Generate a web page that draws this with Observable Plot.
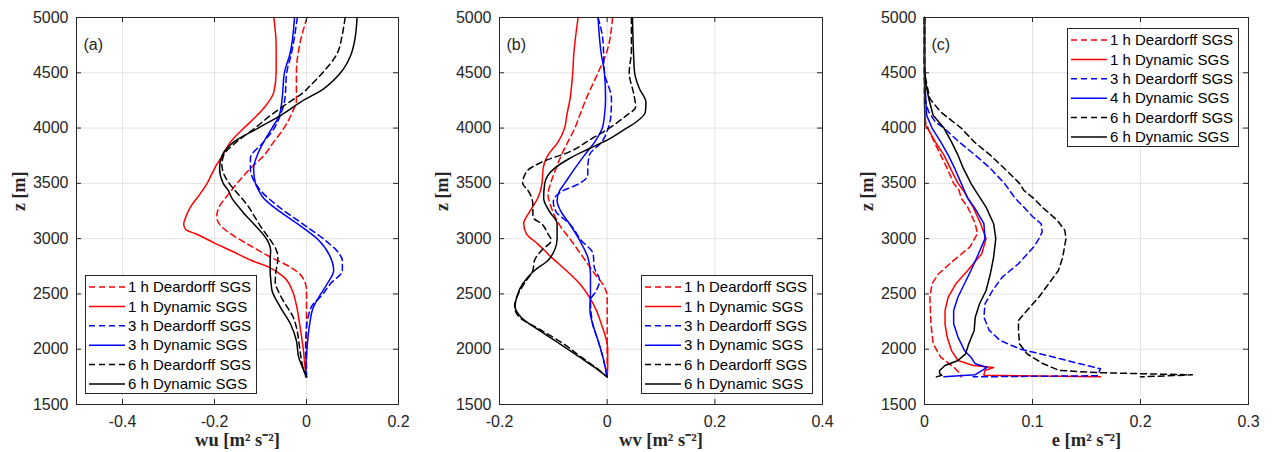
<!DOCTYPE html>
<html><head><meta charset="utf-8">
<script src="https://cdn.jsdelivr.net/npm/d3@7"></script>
<script src="https://cdn.jsdelivr.net/npm/@observablehq/plot@0.6"></script>
<style>
body{margin:0;background:#fff;}
#wrap{position:relative;width:1274px;height:452px;overflow:hidden;background:#fff;}
.panel{position:absolute;top:0;}
.legend{position:absolute;}
</style></head><body><div id="wrap"></div><script>
// ---------- data: [z (m), value] pairs ----------
const zTicks = [1500, 2000, 2500, 3000, 3500, 4000, 4500, 5000];
const xTicksA = [-0.4, -0.2, 0, 0.2];
const xTicksB = [-0.2, 0, 0.2, 0.4];
const xTicksC = [0, 0.1, 0.2, 0.3];
const labelsAB = ["1 h Deardorff SGS", "1 h Dynamic SGS", "3 h Deardorff SGS", "3 h Dynamic SGS", "6 h Deardorff SGS", "6 h Dynamic SGS"];
const labelsC = ["1 h Deardorff SGS", "1 h Dynamic SGS", "3 h Deardorff SGS", "4 h Dynamic SGS", "6 h Deardorff SGS", "6 h Dynamic SGS"];

// (a) wu
const wuDear1 = [[5000,0.001],[4750,-0.015],[4500,-0.022],[4250,-0.022],[4150,-0.03],[4000,-0.049],[3875,-0.071],[3750,-0.093],[3635,-0.122],[3500,-0.151],[3400,-0.17],[3285,-0.19],[3200,-0.195],[3135,-0.19],[3044,-0.165],[2953,-0.129],[2833,-0.078],[2742,-0.035],[2652,-0.009],[2531,0],[2000,0],[1750,0]];
const wuDyn1 = [[5000,-0.071],[4750,-0.066],[4500,-0.066],[4325,-0.071],[4200,-0.089],[4100,-0.111],[4000,-0.136],[3875,-0.165],[3750,-0.183],[3650,-0.198],[3500,-0.216],[3400,-0.232],[3300,-0.25],[3200,-0.262],[3130,-0.267],[3080,-0.262],[3044,-0.241],[2960,-0.2],[2893,-0.165],[2800,-0.118],[2742,-0.082],[2652,-0.049],[2531,-0.031],[2400,-0.022],[2230,-0.015],[2000,-0.007],[1800,-0.002],[1750,0]];
const wuDear3 = [[5000,-0.02],[4670,-0.033],[4500,-0.043],[4265,-0.047],[4115,-0.057],[4000,-0.07],[3875,-0.093],[3725,-0.122],[3635,-0.122],[3500,-0.111],[3436,-0.1],[3300,-0.064],[3135,-0.009],[2984,0.041],[2870,0.07],[2803,0.078],[2712,0.078],[2592,0.052],[2472,0.03],[2411,0.015],[2300,0.004],[2200,0],[2000,-0.002],[1750,0]];
const wuDyn3 = [[5000,-0.026],[4670,-0.036],[4500,-0.048],[4265,-0.053],[4115,-0.059],[4000,-0.075],[3875,-0.093],[3755,-0.107],[3635,-0.115],[3500,-0.111],[3436,-0.104],[3365,-0.093],[3285,-0.071],[3135,-0.02],[2984,0.027],[2833,0.052],[2712,0.059],[2592,0.045],[2472,0.027],[2381,0.015],[2230,0.007],[2000,0.001],[1750,-0.002]];
const wuDear6 = [[5000,0.084],[4850,0.078],[4670,0.066],[4500,0.035],[4400,0.012],[4325,-0.006],[4205,-0.048],[4115,-0.078],[4000,-0.112],[3875,-0.152],[3755,-0.18],[3665,-0.184],[3600,-0.181],[3500,-0.168],[3400,-0.148],[3300,-0.128],[3200,-0.113],[3100,-0.098],[2984,-0.078],[2900,-0.066],[2833,-0.062],[2682,-0.067],[2600,-0.068],[2531,-0.062],[2400,-0.045],[2300,-0.03],[2200,-0.022],[2079,-0.017],[1928,-0.012],[1800,-0.005],[1750,0]];
const wuDyn6 = [[5000,0.11],[4776,0.104],[4656,0.096],[4500,0.074],[4355,0.037],[4235,-0.013],[4115,-0.056],[4000,-0.105],[3875,-0.158],[3755,-0.183],[3635,-0.189],[3500,-0.181],[3436,-0.17],[3365,-0.162],[3285,-0.147],[3200,-0.13],[3135,-0.115],[2984,-0.085],[2893,-0.078],[2800,-0.079],[2712,-0.079],[2600,-0.077],[2531,-0.075],[2381,-0.057],[2230,-0.035],[2079,-0.022],[1928,-0.017],[1838,-0.009],[1750,0]];

// (b) wv
const wvDear1 = [[5000,0.01],[4670,-0.002],[4500,-0.017],[4265,-0.039],[4115,-0.051],[4000,-0.06],[3875,-0.073],[3755,-0.085],[3635,-0.095],[3500,-0.105],[3400,-0.11],[3285,-0.104],[3135,-0.09],[2984,-0.067],[2833,-0.045],[2682,-0.023],[2562,-0.005],[2472,0],[2000,0],[1750,0]];
const wvDyn1 = [[5000,-0.054],[4670,-0.062],[4500,-0.064],[4265,-0.069],[4115,-0.075],[4000,-0.079],[3875,-0.091],[3755,-0.11],[3635,-0.119],[3500,-0.121],[3365,-0.129],[3245,-0.144],[3135,-0.155],[3044,-0.15],[2953,-0.129],[2833,-0.104],[2712,-0.076],[2592,-0.051],[2472,-0.033],[2351,-0.02],[2230,-0.011],[2110,-0.003],[2000,0.001],[1850,0.001],[1750,0]];
const wvDear3 = [[5000,-0.017],[4800,-0.008],[4500,-0.005],[4265,0.008],[4115,0.007],[4000,0.002],[3875,-0.01],[3755,-0.033],[3635,-0.036],[3575,-0.036],[3500,-0.051],[3425,-0.085],[3335,-0.1],[3245,-0.095],[3135,-0.07],[2984,-0.048],[2863,-0.026],[2742,-0.024],[2622,-0.014],[2531,-0.02],[2441,-0.031],[2230,-0.027],[2079,-0.017],[1928,-0.008],[1750,0]];
const wvDyn3 = [[5000,-0.017],[4670,-0.011],[4500,-0.005],[4265,-0.003],[4115,-0.005],[4000,-0.009],[3875,-0.023],[3755,-0.042],[3635,-0.06],[3500,-0.079],[3436,-0.088],[3345,-0.093],[3255,-0.087],[3135,-0.07],[2984,-0.051],[2833,-0.036],[2682,-0.031],[2531,-0.031],[2351,-0.032],[2230,-0.027],[2079,-0.017],[1928,-0.008],[1750,0]];
const wvDear6 = [[5000,0.045],[4700,0.045],[4500,0.041],[4295,0.05],[4190,0.053],[4115,0.036],[4000,0.004],[3900,-0.03],[3785,-0.07],[3695,-0.12],[3605,-0.15],[3500,-0.157],[3436,-0.147],[3305,-0.138],[3195,-0.138],[3135,-0.122],[3044,-0.11],[2984,-0.104],[2893,-0.122],[2803,-0.135],[2712,-0.138],[2622,-0.15],[2502,-0.165],[2381,-0.172],[2290,-0.163],[2170,-0.122],[2049,-0.081],[1928,-0.048],[1838,-0.022],[1750,0]];
const wvDyn6 = [[5000,0.047],[4670,0.049],[4500,0.051],[4355,0.06],[4235,0.072],[4145,0.071],[4055,0.054],[4000,0.036],[3905,0.005],[3815,-0.033],[3725,-0.07],[3635,-0.098],[3500,-0.116],[3365,-0.118],[3245,-0.107],[3135,-0.093],[3000,-0.093],[2893,-0.098],[2803,-0.11],[2712,-0.135],[2592,-0.157],[2472,-0.168],[2381,-0.171],[2290,-0.16],[2170,-0.126],[2049,-0.088],[1928,-0.051],[1838,-0.024],[1750,0]];

// (c) e
const eDear1 = [[5000,0],[4200,0],[4050,0.001],[3980,0.004],[3875,0.009],[3755,0.015],[3635,0.021],[3500,0.027],[3436,0.032],[3365,0.034],[3285,0.04],[3135,0.047],[3044,0.049],[2924,0.042],[2803,0.027],[2682,0.013],[2592,0.007],[2472,0.005],[2230,0.006],[2049,0.008],[1928,0.015],[1838,0.027],[1780,0.033],[1750,0.034]];
const eDyn1 = [[5000,0],[4200,0],[4025,0.001],[3980,0.004],[3875,0.01],[3755,0.018],[3635,0.024],[3500,0.031],[3436,0.036],[3285,0.045],[3135,0.052],[3000,0.057],[2863,0.053],[2712,0.04],[2592,0.029],[2472,0.022],[2351,0.019],[2230,0.019],[2110,0.021],[1988,0.025],[1898,0.031],[1853,0.045],[1835,0.064],[1808,0.056],[1765,0.055],[1750,0.163]];
const eDear3 = [[5000,0],[4300,0],[4200,0.002],[4145,0.004],[4055,0.01],[4000,0.018],[3875,0.032],[3755,0.047],[3635,0.061],[3500,0.074],[3365,0.084],[3275,0.093],[3200,0.1],[3135,0.108],[3060,0.109],[3000,0.106],[2924,0.101],[2773,0.087],[2652,0.072],[2531,0.063],[2411,0.056],[2290,0.055],[2170,0.06],[2079,0.07],[2000,0.089],[1928,0.12],[1868,0.144],[1823,0.163],[1760,0.16],[1750,0.045]];
const eDyn3 = [[5000,0],[4450,0],[4300,0.001],[4115,0.002],[4000,0.007],[3875,0.015],[3755,0.022],[3635,0.028],[3500,0.034],[3365,0.04],[3285,0.046],[3135,0.055],[3000,0.056],[2863,0.05],[2712,0.043],[2592,0.037],[2472,0.031],[2351,0.027],[2230,0.027],[2110,0.031],[1988,0.037],[1928,0.043],[1868,0.047],[1835,0.058],[1770,0.047],[1750,0.018]];
const eDear6 = [[5000,0],[4500,0],[4400,0.002],[4265,0.005],[4145,0.015],[4000,0.034],[3875,0.046],[3755,0.061],[3635,0.074],[3500,0.088],[3436,0.092],[3365,0.101],[3285,0.109],[3165,0.123],[3075,0.13],[3000,0.131],[2833,0.128],[2712,0.124],[2592,0.115],[2472,0.106],[2351,0.095],[2260,0.087],[2170,0.087],[2049,0.088],[1958,0.095],[1868,0.11],[1808,0.125],[1788,0.16],[1768,0.248],[1750,0.2]];
const eDyn6 = [[5000,0],[4600,0],[4415,0.001],[4265,0.004],[4115,0.008],[4000,0.018],[3875,0.025],[3755,0.031],[3635,0.036],[3500,0.043],[3436,0.047],[3285,0.057],[3135,0.064],[3000,0.066],[2833,0.064],[2682,0.061],[2531,0.057],[2411,0.051],[2290,0.047],[2170,0.046],[2049,0.041],[1958,0.038],[1898,0.031],[1853,0.019],[1808,0.014],[1780,0.014],[1765,0.016],[1750,0.011]];

// ---------- styles ----------
const colors = ["#ff0000", "#ff0000", "#0000ff", "#0000ff", "#000000", "#000000"];
const dashes = ["6,4", null, "6,4", null, "6,4", null];
const axisColor = "#262626";
const gridColor = "#e3e3e3";
const sans = "Liberation Sans, Arial, Helvetica, sans-serif";
const serif = "Liberation Serif, Times New Roman, serif";

const panels = [
  {left: 0, width: 418, innerW: 322, domain: [-0.5, 0.2], ticks: xTicksA, label: "wu [m² s⁻²]", tag: "(a)",
   series: [wuDear1, wuDyn1, wuDear3, wuDyn3, wuDear6, wuDyn6], labels: labelsAB, curve: "monotone-y", legend: [85, 275]},
  {left: 423, width: 419, innerW: 323, domain: [-0.2, 0.4], ticks: xTicksB, label: "wv [m² s⁻²]", tag: "(b)",
   series: [wvDear1, wvDyn1, wvDear3, wvDyn3, wvDear6, wvDyn6], labels: labelsAB, curve: "monotone-y", legend: [641, 275]},
  {left: 848, width: 426, innerW: 324, domain: [0, 0.3], ticks: xTicksC, label: "e [m² s⁻²]", tag: "(c)",
   series: [eDear1, eDyn1, eDear3, eDyn3, eDear6, eDyn6], labels: labelsC, curve: "linear", legend: [1067, 28]}
];

const H = 452, mT = 17, mB = 48, mL = 76;
const innerH = H - mT - mB;
const wrap = document.getElementById("wrap");

for (const p of panels) {
  const mR = p.width - mL - p.innerW;
  const lineMarks = p.series.map((s, i) => Plot.line(s, {
    x: d => d[1], y: d => d[0], stroke: colors[i], strokeWidth: 1.5,
    strokeDasharray: dashes[i] || undefined, curve: p.curve
  }));
  const chart = Plot.plot({
    width: p.width, height: H,
    marginTop: mT, marginBottom: mB, marginLeft: mL, marginRight: mR,
    style: {fontFamily: sans, background: "transparent", color: axisColor, overflow: "visible"},
    x: {domain: p.domain},
    y: {domain: [1500, 5000]},
    marks: [
      Plot.gridX(p.ticks, {stroke: gridColor, strokeOpacity: 1, strokeWidth: 1}),
      Plot.gridY(zTicks, {stroke: gridColor, strokeOpacity: 1, strokeWidth: 1}),
      ...lineMarks,
      Plot.frame({stroke: axisColor, strokeWidth: 1}),
      Plot.tickY(zTicks, {y: d => d, insetRight: p.innerW - 5, stroke: axisColor}),
      Plot.tickY(zTicks, {y: d => d, insetLeft: p.innerW - 5, stroke: axisColor}),
      Plot.tickX(p.ticks, {x: d => d, insetTop: innerH - 5, stroke: axisColor}),
      Plot.tickX(p.ticks, {x: d => d, insetBottom: innerH - 5, stroke: axisColor}),
      Plot.axisX({ticks: p.ticks, tickSize: 0, tickPadding: 11, fontSize: 16, tickFormat: d => String(d), label: null, fill: axisColor}),
      Plot.axisY({ticks: zTicks, tickSize: 0, tickPadding: 8, fontSize: 16, tickFormat: d => String(d), label: null, fill: axisColor}),
      Plot.text([p.tag], {frameAnchor: "top-left", dx: 7, dy: 21, text: d => d, textAnchor: "start", fontSize: 16, fill: axisColor}),
      Plot.text([p.label], {frameAnchor: "bottom", dy: 41, text: d => d, fontSize: 18.5, fontWeight: "bold", fontFamily: serif, fill: axisColor}),
      Plot.text(["z [m]"], {frameAnchor: "left", dx: -57, rotate: -90, text: d => d, fontSize: 18, fontWeight: "bold", fontFamily: serif, fill: axisColor})
    ]
  });
  chart.classList.add("panel");
  chart.style.left = p.left + "px";
  wrap.appendChild(chart);

  // legend box
  const lw = 172, lh = 119;
  const svg = d3.select(wrap).append("svg").attr("class", "legend")
    .attr("width", lw).attr("height", lh)
    .style("left", p.legend[0] + "px").style("top", p.legend[1] + "px");
  svg.append("rect").attr("x", 0.5).attr("y", 0.5).attr("width", lw - 1).attr("height", lh - 1)
    .attr("fill", "#fff").attr("stroke", axisColor).attr("stroke-width", 1);
  p.labels.forEach((lab, i) => {
    const cy = 12 + i * 19.4;
    svg.append("line").attr("x1", 4).attr("x2", 40).attr("y1", cy).attr("y2", cy)
      .attr("stroke", colors[i]).attr("stroke-width", 1.5)
      .attr("stroke-dasharray", dashes[i] || null);
    svg.append("text").attr("x", 43).attr("y", cy).attr("dy", "0.35em")
      .attr("font-family", sans).attr("font-size", 15).attr("fill", "#000").text(lab);
  });
}
</script></body></html>
